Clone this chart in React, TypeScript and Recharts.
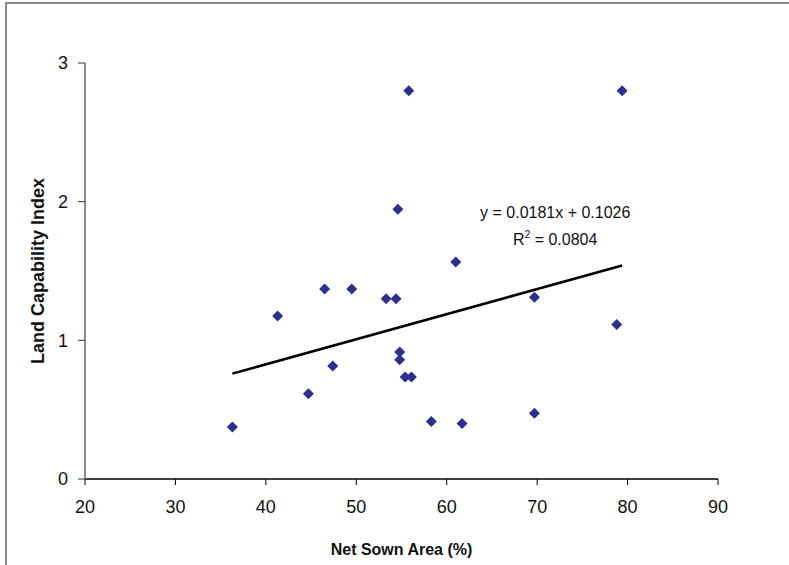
import React from 'react';
import { ScatterChart, Scatter, XAxis, YAxis, ReferenceLine, ReferenceDot, Label } from 'recharts';

// net sown area (%) vs land capability index
const netSownArea = [36.3, 41.3, 44.7, 46.5, 47.4, 49.5, 53.3, 54.4, 54.8, 54.8, 55.4, 56.1, 54.6, 55.8, 58.3, 61.0, 61.7, 69.7, 69.7, 78.8, 79.4];
const landCapability = [0.375, 1.175, 0.615, 1.37, 0.815, 1.37, 1.3, 1.3, 0.915, 0.86, 0.735, 0.735, 1.945, 2.8, 0.415, 1.565, 0.4, 1.31, 0.475, 1.115, 2.8];

const xTicks = [20, 30, 40, 50, 60, 70, 80, 90];
const yTicks = [0, 1, 2, 3];

// linear trendline from the chart
const slope = 0.0181;
const intercept = 0.1026;
const rSquared = '0.0804';

const points = netSownArea.map((x, i) => ({ x, y: landCapability[i] }));
const xMin = Math.min(...netSownArea);
const xMax = Math.max(...netSownArea);

const FONT = '"Liberation Sans", Arial, sans-serif';

const Diamond = (props: any) => {
  const { cx, cy } = props;
  const r = 5.5;
  return <polygon points={`${cx},${cy - r} ${cx + r},${cy} ${cx},${cy + r} ${cx - r},${cy}`} fill="#2b2f8f" />;
};

export default function App() {
  return (
    <div style={{ position: 'absolute', left: 0, top: 0, width: 789, height: 565, background: '#fff', fontFamily: FONT }}>
      <div style={{ position: 'absolute', left: 5, top: 2, width: 784, height: 563, borderTop: '2px solid #8a8a8a', borderLeft: '2px solid #8a8a8a' }} />
      <div style={{ position: 'absolute', left: 0, top: 0 }}>
        <ScatterChart width={789} height={565} margin={{ top: 63, right: 71, left: 0, bottom: 0 }}>
          <XAxis
            type="number"
            dataKey="x"
            domain={[20, 90]}
            ticks={xTicks}
            height={86}
            tickSize={6}
            tickMargin={15}
            axisLine={{ stroke: '#000', strokeWidth: 1.5 }}
            tickLine={{ stroke: '#000' }}
            tick={{ fill: '#111', fontSize: 18, fontFamily: FONT }}
          >
            <Label
              content={({ viewBox }: any) => (
                <text x={viewBox.x + viewBox.width / 2} y={viewBox.y + 76} textAnchor="middle" fontFamily={FONT} fontSize={16} fontWeight="bold" fill="#111">
                  Net Sown Area (%)
                </text>
              )}
            />
          </XAxis>
          <YAxis
            type="number"
            dataKey="y"
            domain={[0, 3]}
            ticks={yTicks}
            width={85}
            tickSize={7}
            tickMargin={10}
            axisLine={{ stroke: '#8a8a8a', strokeWidth: 2 }}
            tickLine={{ stroke: '#333' }}
            tick={{ fill: '#111', fontSize: 18, fontFamily: FONT }}
          >
            <Label
              content={({ viewBox }: any) => {
                const cx = 44;
                const cy = viewBox.y + viewBox.height / 2;
                return (
                  <text x={cx} y={cy} transform={`rotate(-90, ${cx}, ${cy})`} textAnchor="middle" fontFamily={FONT} fontSize={18} fontWeight="bold" fill="#111">
                    Land Capability Index
                  </text>
                );
              }}
            />
          </YAxis>
          <XAxis xAxisId="top" orientation="top" type="number" domain={[0, 1]} height={0} tick={false} tickLine={false} axisLine={{ stroke: '#222', strokeWidth: 1.5 }} />
          <YAxis yAxisId="right" orientation="right" type="number" domain={[0, 1]} width={0} tick={false} tickLine={false} axisLine={{ stroke: '#222', strokeWidth: 1.5 }} />
          <ReferenceLine
            segment={[
              { x: xMin, y: slope * xMin + intercept },
              { x: xMax, y: slope * xMax + intercept },
            ]}
            stroke="#000"
            strokeWidth={2.5}
          />
          <Scatter data={points} shape={Diamond} isAnimationActive={false} />
          <ReferenceDot
            x={72}
            y={1.925}
            r={0}
            fill="none"
            stroke="none"
            label={({ viewBox }: any) => {
              const cx = viewBox.x + (viewBox.width || 0) / 2;
              const cy = viewBox.y + (viewBox.height || 0) / 2;
              return (
                <g fontFamily={FONT} fontSize={16} fill="#111">
                  <text x={cx} y={cy + 6} textAnchor="middle">
                    {`y = ${slope}x + ${intercept}`}
                  </text>
                  <text x={cx} y={cy + 33} textAnchor="middle">
                    <tspan>R</tspan>
                    <tspan fontSize={10} dy={-7}>2</tspan>
                    <tspan dy={7}>{` = ${rSquared}`}</tspan>
                  </text>
                </g>
              );
            }}
          />
        </ScatterChart>
      </div>
    </div>
  );
}
